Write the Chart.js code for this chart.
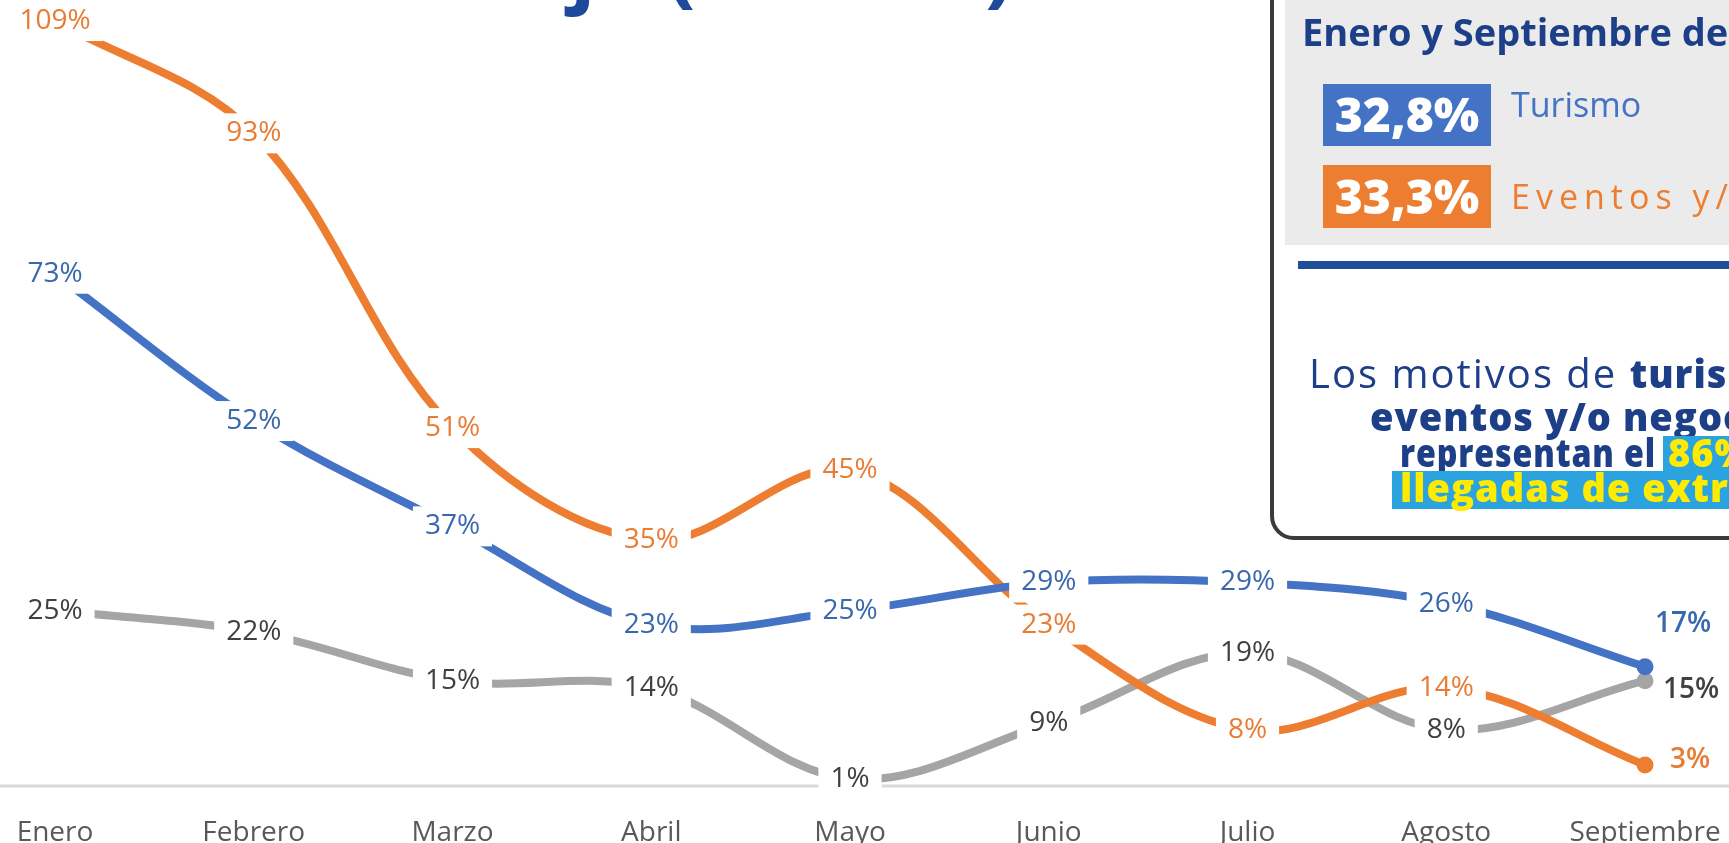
<!DOCTYPE html>
<html>
<head>
<meta charset="utf-8">
<script src="https://cdn.jsdelivr.net/npm/chart.js@4.4.1/dist/chart.umd.min.js"></script>
<style>
  html, body { margin: 0; padding: 0; background: #fff; overflow: hidden; }
  canvas { display: block; }
</style>
</head>
<body>
<canvas id="line-chart" width="1729" height="843"></canvas>
<script>
// datos (variacion %, enero a septiembre)
const meses = ["Enero", "Febrero", "Marzo", "Abril", "Mayo", "Junio", "Julio", "Agosto", "Septiembre"];
const turismo = [73, 52, 37, 23, 25, 29, 29, 26, 17];
const eventos = [109, 93, 51, 35, 45, 23, 8, 14, 3];
const otros = [25, 22, 15, 14, 1, 9, 19, 8, 15];

const AZUL = "#4472C4", NARANJA = "#ED7D31", GRIS = "#A5A5A5";
const fuente = '"Open Sans", "Noto Sans", sans-serif';

// linea del eje x a todo lo ancho
const ejeX = {
  id: "ejeX",
  beforeDatasetsDraw(chart) {
    const ctx = chart.ctx;
    ctx.save();
    ctx.strokeStyle = "#d9d9d9";
    ctx.lineWidth = 3;
    ctx.beginPath();
    ctx.moveTo(0, chart.chartArea.bottom);
    ctx.lineTo(chart.width, chart.chartArea.bottom);
    ctx.stroke();
    ctx.restore();
  }
};

// etiquetas de datos con fondo blanco (como en excel)
const etiquetas = {
  id: "etiquetas",
  afterDatasetsDraw(chart) {
    const ctx = chart.ctx;
    const items = [];
    chart.data.datasets.forEach((ds, i) => {
      chart.getDatasetMeta(i).data.forEach((pt, j) => {
        items.push({ ds: ds, x: pt.x, y: pt.y, txt: ds.data[j] + "%", last: j === ds.data.length - 1 });
      });
    });
    ctx.save();
    ctx.font = "28px " + fuente;
    ctx.textAlign = "center";
    ctx.textBaseline = "middle";
    items.forEach(it => {
      if (it.last) return;
      const w = ctx.measureText(it.txt).width + 24;
      ctx.fillStyle = "#fff";
      ctx.fillRect(it.x - w / 2, it.y - 20, w, 40);
    });
    items.forEach(it => {
      if (it.last) return;
      ctx.fillStyle = it.ds.colorEtiqueta;
      ctx.fillText(it.txt, it.x, it.y);
    });
    // ultimo mes: etiqueta a la derecha del marcador
    ctx.font = "600 28px " + fuente;
    items.forEach(it => {
      if (!it.last) return;
      const d = it.ds.desplaza;
      ctx.fillStyle = it.ds.colorEtiqueta;
      ctx.fillText(it.txt, it.x + d[0], it.y + d[1]);
    });
    ctx.restore();
  }
};

// texto ajustado a un ancho dado
function textoAncho(c, txt, x, y, ancho) {
  const w = c.measureText(txt).width;
  c.save();
  c.translate(x, y);
  c.scale(ancho / w, 1);
  c.fillText(txt, 0, 0);
  c.restore();
}

// recuadro de texto de la derecha y restos del titulo
const recuadro = {
  id: "recuadro",
  afterDraw(chart) {
    const c = chart.ctx;
    c.save();
    c.textAlign = "left";
    c.textBaseline = "alphabetic";

    // titulo (solo se ve el borde inferior)
    c.fillStyle = "#1f4a9c";
    c.font = "bold 84px " + fuente;
    const pre = "Motivo de viaje ";
    c.fillText("Motivo de viaje (2024 %)", 667 - c.measureText(pre).width, -3);

    // caja
    c.fillStyle = "#ebebeb";
    c.fillRect(1285, 0, 500, 245);
    c.strokeStyle = "#3b3b3b";
    c.lineWidth = 4;
    c.beginPath();
    c.roundRect(1272, -60, 600, 598, 22);
    c.stroke();
    c.fillStyle = "#1f4e9a";
    c.fillRect(1298, 261, 500, 8);

    c.fillStyle = "#1d3f87";
    c.font = "bold 38px " + fuente;
    c.fillText("Enero y Septiembre de", 1302, 46);

    c.fillStyle = AZUL;
    c.fillRect(1323, 84, 168, 62);
    c.fillStyle = NARANJA;
    c.fillRect(1323, 165, 168, 63);
    c.fillStyle = "#fff";
    c.font = "800 48px " + fuente;
    c.textAlign = "center";
    c.fillText("32,8%", 1407, 132);
    c.fillText("33,3%", 1407, 214);
    c.textAlign = "left";

    c.font = "500 34px " + fuente;
    c.fillStyle = AZUL;
    c.fillText("Turismo", 1511, 117);
    c.letterSpacing = "6px";
    c.fillStyle = NARANJA;
    c.fillText("Eventos y/o negocios", 1511, 209);

    c.letterSpacing = "2px";
    c.fillStyle = "#1d3f87";
    c.font = "40px " + fuente;
    c.fillText("Los motivos de ", 1309, 388);
    const w1 = c.measureText("Los motivos de ").width;
    c.letterSpacing = "1px";
    c.font = "800 38px " + fuente;
    c.fillText("turismo y", 1309 + w1, 388);
    c.fillText("eventos y/o negocios", 1370, 431);
    textoAncho(c, "representan el", 1400, 467, 256);

    c.fillStyle = "#2ba3df";
    c.fillRect(1663, 436, 200, 36);
    c.fillRect(1392, 471, 500, 38);
    c.fillStyle = "#ffeb00";
    c.fillText("86%", 1668, 467);
    c.fillText("llegadas de extranjeros", 1400, 502);
    c.restore();
  }
};

new Chart(document.getElementById("line-chart"), {
  type: "line",
  data: {
    labels: meses,
    datasets: [
      { label: "Turismo", data: turismo, borderColor: AZUL, backgroundColor: AZUL,
        colorEtiqueta: "#3a68ae", desplaza: [38, -43] },
      { label: "Eventos y/o negocios", data: eventos, borderColor: NARANJA, backgroundColor: NARANJA,
        colorEtiqueta: "#e97c34", desplaza: [45, -5] },
      { label: "Otros motivos", data: otros, borderColor: GRIS, backgroundColor: GRIS,
        colorEtiqueta: "#404040", desplaza: [46, 9] }
    ]
  },
  options: {
    responsive: false,
    animation: false,
    layout: { autoPadding: false, padding: { left: 55, right: 84, top: 0, bottom: 0 } },
    elements: {
      line: { borderWidth: 8, tension: 0.35, fill: false, borderCapStyle: "round" },
      point: { radius: ctx => ctx.dataIndex === 8 ? 8.5 : 0, borderWidth: 0, hoverRadius: 0 }
    },
    clip: false,
    plugins: { legend: { display: false }, tooltip: { enabled: false }, title: { display: false } },
    scales: {
      y: { display: false, min: 0, max: 112 },
      x: {
        grid: { display: false },
        border: { display: false },
        ticks: { color: "#595959", font: { size: 28, family: fuente }, padding: 22 },
        afterFit: s => { s.height = 57; s.paddingLeft = 0; s.paddingRight = 0; }
      }
    }
  },
  plugins: [ejeX, etiquetas, recuadro]
});
</script>
</body>
</html>
